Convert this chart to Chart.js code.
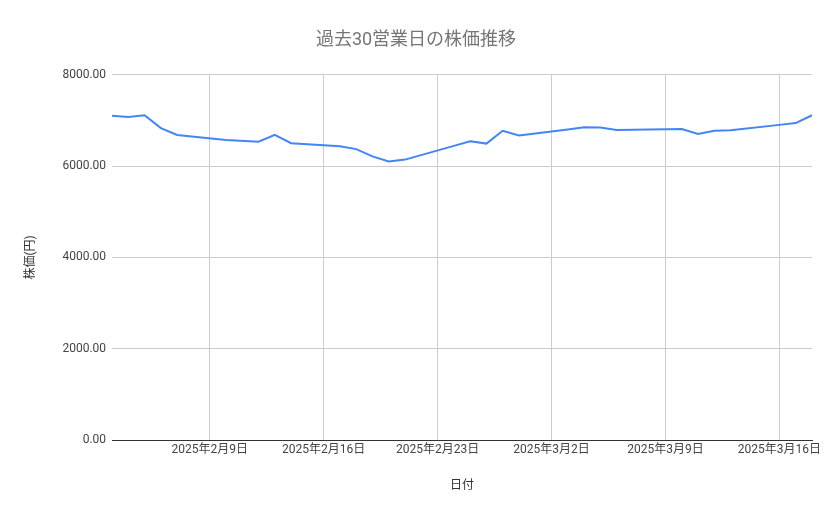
<!DOCTYPE html><html><head><meta charset="utf-8">
<script src="https://cdn.jsdelivr.net/npm/chart.js@4"></script>
<style>body{margin:0;background:#fff}#w{width:839px;height:519px}</style></head><body>
<div id="w"><canvas id="c"></canvas></div>
<script>
const days=[0,1,2,3,4,7,9,10,11,14,15,16,17,18,21,22,23,24,25,28,29,30,31,35,36,37,38,41,42,43];
const prices=[7100,7070,7110,6830,6680,6570,6530,6680,6500,6430,6370,6210,6100,6140,6440,6540,6490,6770,6670,6800,6850,6840,6790,6810,6700,6770,6780,6900,6940,7110];
const tickDays=[6,13,20,27,34,41];
const tickLabels=["2025年2月9日","2025年2月16日","2025年2月23日","2025年3月2日","2025年3月9日","2025年3月16日"];
const F="'Roboto','Noto Sans CJK JP',sans-serif";
new Chart(document.getElementById('c'),{type:'line',
data:{datasets:[{data:days.map((d,i)=>({x:d,y:prices[i]})),borderColor:'#4285f4',borderWidth:2,pointRadius:0,tension:0}]},
options:{responsive:true,maintainAspectRatio:false,animation:false,
layout:{padding:{left:20,right:27,top:10,bottom:22}},
plugins:{legend:{display:false},title:{display:true,text:'過去30営業日の株価推移',color:'#757575',font:{family:F,size:18,weight:'normal'},padding:{top:20,bottom:23}}},
scales:{
x:{type:'linear',min:0,max:43,afterBuildTicks:a=>{a.ticks=tickDays.map(v=>({value:v}));},
ticks:{callback:v=>tickLabels[tickDays.indexOf(v)]||'',maxRotation:0,autoSkip:false,color:'#444',font:{family:F,size:12}},
grid:{color:'#ccc',drawTicks:false},border:{color:'#333'},
title:{display:true,text:'日付',color:'#333',font:{family:F,size:12},padding:{top:18}}},
y:{min:0,max:8000,ticks:{stepSize:2000,callback:v=>v.toFixed(2),color:'#444',font:{family:F,size:12},padding:6},
grid:{color:'#ccc',drawTicks:false},border:{display:false},
title:{display:true,text:'株価(円)',color:'#333',font:{family:F,size:12},padding:{bottom:18}}}}}});
</script></body></html>
